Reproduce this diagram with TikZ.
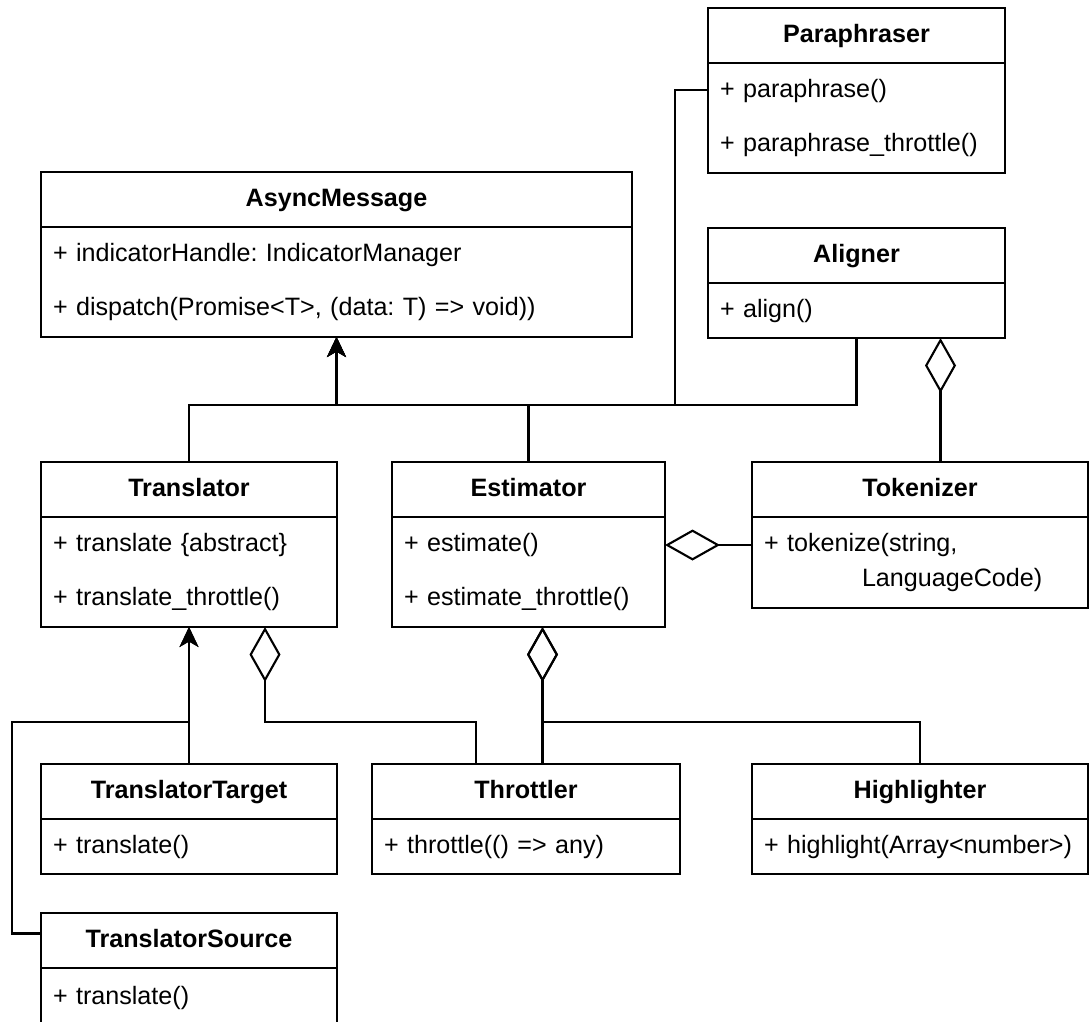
\documentclass[tikz,border=0pt]{standalone}
\usepackage{fontspec}
\setmainfont{Liberation Sans}
\usetikzlibrary{arrows.meta,positioning,calc}
\frenchspacing

\begin{document}
\begin{tikzpicture}[
    x=0.2mm, y=-0.2mm, line width=1.1pt,
    font=\fontsize{14.3}{17.2}\selectfont,
    cls/.style={rectangle, draw, anchor=north west, minimum height=11mm,
                text height=10.4pt, text depth=3pt,
                inner sep=0pt, outer sep=0pt, font=\fontsize{14.3}{17.2}\selectfont\bfseries},
    mem/.style={rectangle, draw, align=left, inner xsep=2.4mm, inner ysep=0pt,
                outer sep=0pt},
    inh/.style={line width=1.2pt, -{Stealth[length=4mm, width=3.8mm, inset=1.1mm]}},
    agg/.style={line width=1.2pt, {Diamond[open, length=11mm, width=6.2mm]}-}
  ]
  \fill[white, use as bounding box] (0,0) rectangle (1090,1021);

  \node[cls, minimum width=59.4mm] (para) at (708,8) {Paraphraser};
  \node[mem, below=0pt of para, text width=54.6mm, minimum height=22mm] (paraM)
       {+ paraphrase()\\[13.5pt]+ paraphrase\_throttle()};

  \node[cls, minimum width=118.2mm] (async) at (41,172) {AsyncMessage};
  \node[mem, below=0pt of async, text width=113.4mm, minimum height=22mm] (asyncM)
       {+ indicatorHandle: IndicatorManager\\[13.5pt]+ dispatch(Promise<T>, (data: T) => void))};

  \node[cls, minimum width=59.4mm] (align) at (708,228) {Aligner};
  \node[mem, below=0pt of align, text width=54.6mm, minimum height=11mm] (alignM)
       {+ align()};

  \node[cls, minimum width=59.2mm] (trans) at (41,462) {Translator};
  \node[mem, below=0pt of trans, text width=54.4mm, minimum height=22mm] (transM)
       {+ translate \{abstract\}\\[13.5pt]+ translate\_throttle()};

  \node[cls, minimum width=54.6mm] (est) at (392,462) {Estimator};
  \node[mem, below=0pt of est, text width=49.8mm, minimum height=22mm] (estM)
       {+ estimate()\\[13.5pt]+ estimate\_throttle()};

  \node[cls, minimum width=67.2mm] (tok) at (752,462) {Tokenizer};
  \node[mem, below=0pt of tok, text width=62.4mm, minimum height=18.2mm] (tokM)
       {+ tokenize(string,\\[2.7pt]\hspace*{19.6mm}LanguageCode)};

  \node[cls, minimum width=59.2mm] (target) at (41,764) {TranslatorTarget};
  \node[mem, below=0pt of target, text width=54.4mm, minimum height=11mm] (targetM)
       {+ translate()};

  \node[cls, minimum width=61.6mm] (thr) at (372,764) {Throttler};
  \node[mem, below=0pt of thr, text width=56.8mm, minimum height=11mm] (thrM)
       {+ throttle(() => any)};

  \node[cls, minimum width=67.2mm] (hl) at (752,764) {Highlighter};
  \node[mem, below=0pt of hl, text width=62.4mm, minimum height=11mm] (hlM)
       {+ highlight(Array<number>)};

  \node[cls, minimum width=59.2mm] (source) at (41,913) {TranslatorSource};
  \node[mem, below=0pt of source, text width=54.4mm, minimum height=12mm] (sourceM)
       {+ translate()};

  % generalisation
  \coordinate (hub) at ($(asyncM.south)+(0,68)$);
  \draw[inh] (trans.north) |- (hub) -- (asyncM.south);
  \draw[inh] (est.north) |- (hub) -- (asyncM.south);
  \draw[inh] (alignM.south) |- (hub) -- (asyncM.south);
  \draw[inh] ($(paraM.north west)+(0,27)$) -- ++(-33,0) |- (hub) -- (asyncM.south);
  \draw[inh] (target.north) -- (transM.south);
  \draw[inh] ($(source.west)+(0,-7)$) -- ++(-29,0) |- ($(transM.south)+(0,95)$) -- (transM.south);

  % aggregation
  \draw[agg] ($(transM.south)+(76,0)$) -- ++(0,95) -| ($(thr.north)+(-50,0)$);
  \coordinate (estD) at ($(estM.south)+(14,0)$);
  \draw[agg] (estD) -- (estD |- thr.north);
  \draw[agg] (estD) -- ++(0,95) -| (hl.north);
  \coordinate (estR) at ($(estM.north east)+(0,28)$);
  \draw[agg] (estR) -- (estR -| tokM.west);
  \coordinate (algD) at ($(alignM.south)+(84,0)$);
  \draw[agg] (algD) -- (algD |- tok.north);
\end{tikzpicture}
\end{document}
